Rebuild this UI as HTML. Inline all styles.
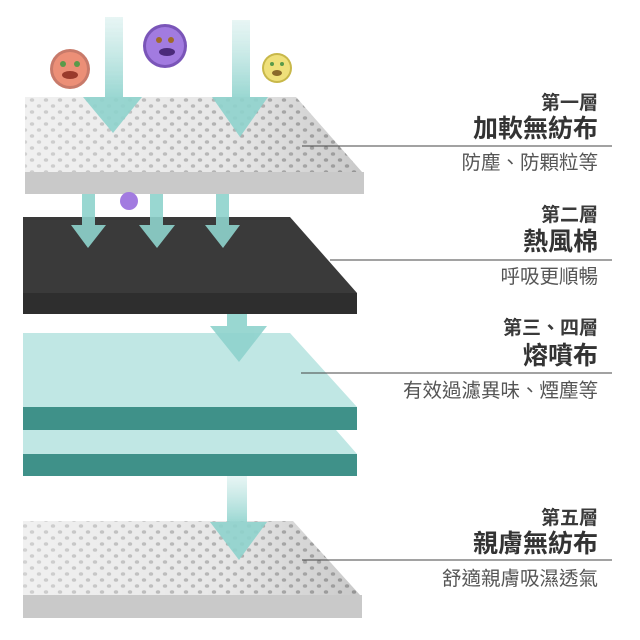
<!DOCTYPE html>
<html><head><meta charset="utf-8"><style>
html,body{margin:0;padding:0;background:#fff}
svg{display:block}
text{font-family:"Liberation Sans","Noto Sans CJK TC",sans-serif;fill:#333}
</style></head><body>
<svg width="640" height="640" viewBox="0 0 640 640" xmlns="http://www.w3.org/2000/svg">
<defs>
<pattern id="dots" width="14" height="12" patternUnits="userSpaceOnUse">
<rect width="14" height="12" fill="#e4e4e4"/>
<ellipse cx="4" cy="4" rx="2.2" ry="1.8" fill="#a8a8a8"/>
<ellipse cx="11" cy="10" rx="2.2" ry="1.8" fill="#acacac"/>
</pattern>
<linearGradient id="shade" x1="0" x2="1" y1="0" y2="0">
<stop offset="0" stop-color="#fff" stop-opacity="0.45"/>
<stop offset="0.6" stop-color="#fff" stop-opacity="0.1"/>
<stop offset="1" stop-color="#000" stop-opacity="0.12"/>
</linearGradient>
<linearGradient id="shaft" x1="0" x2="0" y1="0" y2="1">
<stop offset="0" stop-color="#a8dcd8" stop-opacity="0.3"/>
<stop offset="1" stop-color="#8fd3cd"/>
</linearGradient>
</defs>

<polygon points="25,97 296,97 362,172 25,172" fill="url(#dots)"/>
<polygon points="25,97 296,97 362,172 25,172" fill="url(#shade)"/>
<rect x="25" y="172" width="339" height="22" fill="#c9c9c9"/>

<polygon points="23,217 290,217 357,293 23,293" fill="#3a3a3a"/>
<rect x="23" y="293" width="334" height="21" fill="#2e2e2e"/>

<polygon points="23,333 290,333 357,407 23,407" fill="#c0e7e4"/>
<rect x="23" y="407" width="334" height="23" fill="#3f9189"/>
<polygon points="23,430 336,430 357,454 23,454" fill="#c0e7e4"/>
<rect x="23" y="454" width="334" height="22" fill="#3f9189"/>

<polygon points="23,521 293,521 360,595 23,595" fill="url(#dots)"/>
<polygon points="23,521 293,521 360,595 23,595" fill="url(#shade)"/>
<rect x="23" y="595" width="339" height="23" fill="#c9c9c9"/>

<g fill="#8fd3cd" opacity="0.9">
<rect x="105" y="17" width="18" height="80" fill="url(#shaft)"/>
<polygon points="83,97 142,97 113,133"/>
<rect x="232" y="20" width="18" height="77" fill="url(#shaft)"/>
<polygon points="212,97 268,97 240,137"/>
<rect x="82" y="194" width="13" height="31"/>
<polygon points="71,225 106,225 88,248"/>
<rect x="150" y="194" width="13" height="31"/>
<polygon points="139,225 175,225 157,248"/>
<rect x="216" y="194" width="13" height="31"/>
<polygon points="205,225 240,225 223,248"/>
<rect x="227" y="314" width="20" height="13"/>
<polygon points="210,326 267,326 239,362"/>
<rect x="227" y="476" width="20" height="47" fill="url(#shaft)"/>
<polygon points="210,522 267,522 239,560"/>
</g>

<g>
<circle cx="70" cy="69" r="20" fill="#c87a6a"/><circle cx="70" cy="69" r="17" fill="#ec8f77"/>
<ellipse cx="70" cy="75" rx="8" ry="4" fill="#9a3a2c"/><circle cx="63" cy="64" r="3" fill="#5a9a4a"/><circle cx="77" cy="64" r="3" fill="#5a9a4a"/>
<circle cx="165" cy="46" r="22" fill="#7a55b8"/><circle cx="165" cy="46" r="19" fill="#a27be0"/>
<ellipse cx="167" cy="52" rx="8" ry="4" fill="#4a2a7a"/><circle cx="159" cy="40" r="3" fill="#a06a2a"/><circle cx="171" cy="40" r="3" fill="#a06a2a"/>
<circle cx="277" cy="68" r="15" fill="#c8b84a"/><circle cx="277" cy="68" r="13" fill="#efe07a"/>
<ellipse cx="277" cy="73" rx="5" ry="3" fill="#8a6a2a"/><circle cx="272" cy="64" r="2" fill="#5a9a4a"/><circle cx="282" cy="64" r="2" fill="#5a9a4a"/>
<circle cx="129" cy="201" r="9" fill="#a27be0"/>
</g>

<g stroke="#444" stroke-width="1">
<line x1="302" y1="146" x2="612" y2="146"/>
<line x1="330" y1="260" x2="612" y2="260"/>
<line x1="301" y1="373" x2="612" y2="373"/>
<line x1="302" y1="560" x2="612" y2="560"/>
</g>

<g text-anchor="end">
<text x="598" y="109" font-size="19" font-weight="bold" style="fill:#3a3a3a">第一層</text>
<text x="598" y="137" font-size="25" font-weight="bold">加軟無紡布</text>
<text x="598" y="169" font-size="19.5" style="fill:#555">防塵、防顆粒等</text>
<text x="598" y="221" font-size="19" font-weight="bold" style="fill:#3a3a3a">第二層</text>
<text x="598" y="250" font-size="25" font-weight="bold">熱風棉</text>
<text x="598" y="283" font-size="19.5" style="fill:#555">呼吸更順暢</text>
<text x="598" y="334" font-size="19" font-weight="bold" style="fill:#3a3a3a">第三、四層</text>
<text x="598" y="364" font-size="25" font-weight="bold">熔噴布</text>
<text x="598" y="397" font-size="19.5" style="fill:#555">有效過濾異味、煙塵等</text>
<text x="598" y="524" font-size="19" font-weight="bold" style="fill:#3a3a3a">第五層</text>
<text x="598" y="552" font-size="25" font-weight="bold">親膚無紡布</text>
<text x="598" y="585" font-size="19.5" style="fill:#555">舒適親膚吸濕透氣</text>
</g>
</svg>
</body></html>
